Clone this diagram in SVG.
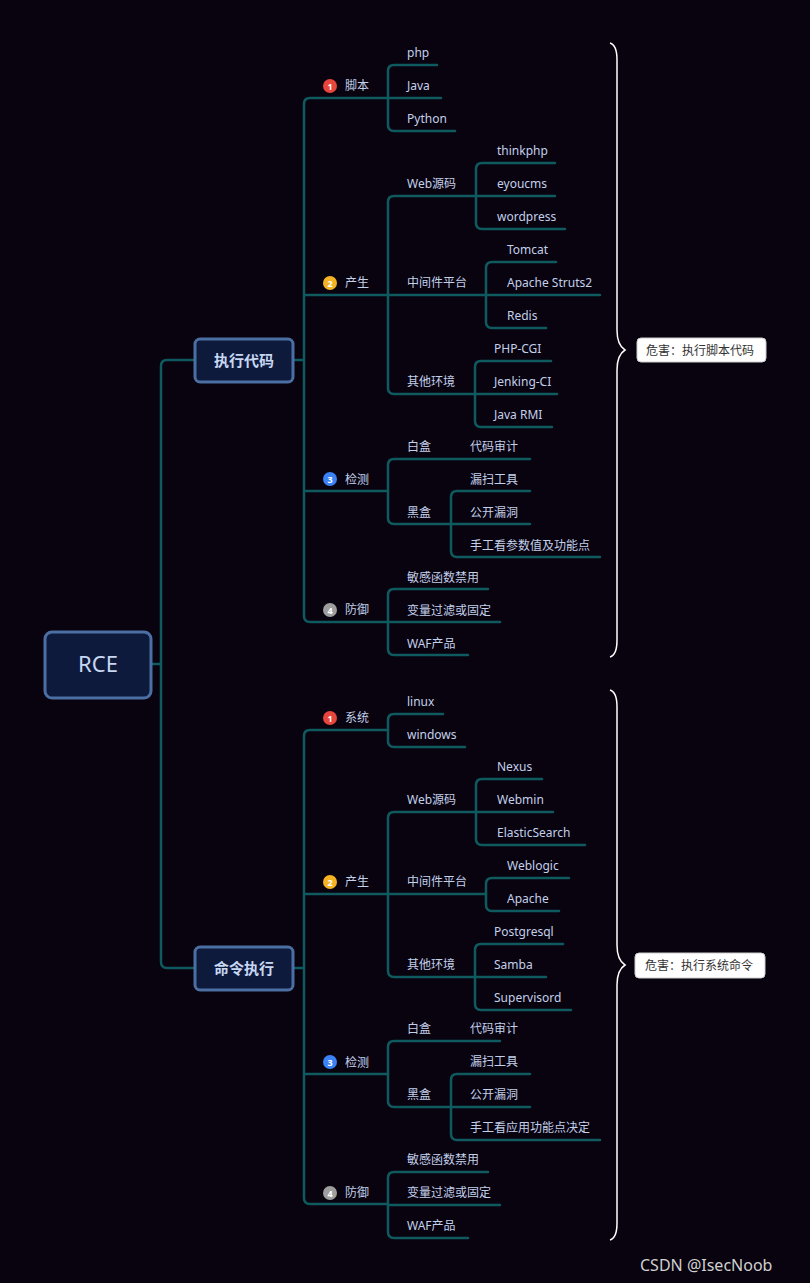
<svg xmlns="http://www.w3.org/2000/svg" width="810" height="1283" viewBox="0 0 810 1283">
<style>
.l{fill:none;stroke:#0f5a5e;stroke-width:2.5;stroke-linecap:round}
.t{font-family:"Noto Sans","Noto Sans CJK SC",sans-serif;font-size:12px;fill:#c3d0ea}
.bx{fill:#0e1a3c;stroke:#4b6fa3;stroke-width:3}
.bt{font-family:"Noto Sans","Noto Sans CJK SC",sans-serif;font-size:15px;font-weight:bold;fill:#c7d7f2;text-anchor:middle}
.br{fill:none;stroke:#ffffff;stroke-width:1.5}
.hb{fill:#ffffff;stroke:#cccccc;stroke-width:1}
.ht{font-family:"Noto Sans","Noto Sans CJK SC",sans-serif;font-size:12px;fill:#333}
.n{font-family:"Noto Sans",sans-serif;font-size:9px;font-weight:bold;fill:#fff;text-anchor:middle}
</style>
<rect width="810" height="1283" fill="#08030f"/>
<g id="connectors">
<path class="l" d="M151,664 H161 M195,360 H167 Q161,360 161,366 V962 Q161,968 167,968 H195"/>
<!-- top -->
<path class="l" d="M293,360 H304 M388,98 H310 Q304,98 304,104 V616 Q304,622 310,622 H388 M304,295 H388 M304,491 H388"/>
<path class="l" d="M437,65 H394 Q388,65 388,71 V125 Q388,131 394,131 H455 M388,98 H441"/>
<path class="l" d="M476,196 H394 Q388,196 388,202 V388 Q388,394 394,394 H475 M388,295 H486"/>
<path class="l" d="M555,163 H482 Q476,163 476,169 V223 Q476,229 482,229 H565 M476,196 H555"/>
<path class="l" d="M556,262 H492 Q486,262 486,268 V322 Q486,328 492,328 H546 M486,295 H600"/>
<path class="l" d="M551,361 H481 Q475,361 475,367 V421 Q475,427 481,427 H552 M475,394 H557"/>
<path class="l" d="M530,459 H394 Q388,459 388,465 V518 Q388,524 394,524 H451"/>
<path class="l" d="M530,491 H457 Q451,491 451,497 V551 Q451,557 457,557 H600 M451,524 H530"/>
<path class="l" d="M488,589 H394 Q388,589 388,595 V649 Q388,655 394,655 H468 M388,622 H500"/>
<!-- bottom -->
<path class="l" d="M293,968 H304 M388,730 H310 Q304,730 304,736 V1198 Q304,1204 310,1204 H388 M304,894 H388 M304,1074 H388"/>
<path class="l" d="M443,714 H394 Q388,714 388,720 V741 Q388,747 394,747 H465"/>
<path class="l" d="M476,812 H394 Q388,812 388,818 V971 Q388,977 394,977 H475 M388,894 H486"/>
<path class="l" d="M542,779 H482 Q476,779 476,785 V839 Q476,845 482,845 H585 M476,812 H553"/>
<path class="l" d="M569,878 H492 Q486,878 486,884 V905 Q486,911 492,911 H559"/>
<path class="l" d="M563,944 H481 Q475,944 475,950 V1004 Q475,1010 481,1010 H571 M475,977 H546"/>
<path class="l" d="M500,1041 H394 Q388,1041 388,1047 V1101 Q388,1107 394,1107 H451"/>
<path class="l" d="M530,1074 H457 Q451,1074 451,1080 V1134 Q451,1140 457,1140 H600 M451,1107 H530"/>
<path class="l" d="M488,1172 H394 Q388,1172 388,1178 V1232 Q388,1238 394,1238 H468 M388,1205 H500"/>
</g>
<g id="rce"><rect class="bx" x="45" y="632" width="106" height="66" rx="7"/><text x="98" y="672" class="bt" style="font-size:22px;font-weight:normal">RCE</text></g>
<g id="exec-code"><rect class="bx" x="195" y="339" width="98" height="43" rx="5"/><text x="244" y="366" class="bt">执行代码</text></g>
<g id="exec-cmd"><rect class="bx" x="195" y="947" width="98" height="43" rx="5"/><text x="244" y="974" class="bt">命令执行</text></g>
<g id="icons">
<circle cx="330" cy="86" r="7" fill="#e8453c"/><text x="330" y="89.5" class="n">1</text>
<circle cx="330" cy="283" r="7" fill="#f5b324"/><text x="330" y="286.5" class="n">2</text>
<circle cx="330" cy="479" r="7" fill="#3b82f6"/><text x="330" y="482.5" class="n">3</text>
<circle cx="330" cy="610" r="7" fill="#9e9e9e"/><text x="330" y="613.5" class="n">4</text>
<circle cx="330" cy="718" r="7" fill="#e8453c"/><text x="330" y="721.5" class="n">1</text>
<circle cx="330" cy="882" r="7" fill="#f5b324"/><text x="330" y="885.5" class="n">2</text>
<circle cx="330" cy="1062" r="7" fill="#3b82f6"/><text x="330" y="1065.5" class="n">3</text>
<circle cx="330" cy="1193" r="7" fill="#9e9e9e"/><text x="330" y="1196.5" class="n">4</text>
</g>
<g id="labels" class="t">
<text class="t" x="345" y="90">脚本</text>
<text class="t" x="345" y="287">产生</text>
<text class="t" x="345" y="484">检测</text>
<text class="t" x="345" y="614">防御</text>
<text class="t" x="407" y="57">php</text>
<text class="t" x="407" y="90">Java</text>
<text class="t" x="407" y="123">Python</text>
<text class="t" x="407" y="188">Web源码</text>
<text class="t" x="407" y="287">中间件平台</text>
<text class="t" x="407" y="386">其他环境</text>
<text class="t" x="497" y="155">thinkphp</text>
<text class="t" x="497" y="188">eyoucms</text>
<text class="t" x="497" y="221">wordpress</text>
<text class="t" x="507" y="254">Tomcat</text>
<text class="t" x="507" y="287">Apache Struts2</text>
<text class="t" x="507" y="320">Redis</text>
<text class="t" x="494" y="353">PHP-CGI</text>
<text class="t" x="494" y="386">Jenking-CI</text>
<text class="t" x="494" y="419">Java RMI</text>
<text class="t" x="407" y="451">白盒</text>
<text class="t" x="470" y="451">代码审计</text>
<text class="t" x="407" y="517">黑盒</text>
<text class="t" x="470" y="484">漏扫工具</text>
<text class="t" x="470" y="517">公开漏洞</text>
<text class="t" x="470" y="550">手工看参数值及功能点</text>
<text class="t" x="407" y="582">敏感函数禁用</text>
<text class="t" x="407" y="615">变量过滤或固定</text>
<text class="t" x="407" y="648">WAF产品</text>
<text class="t" x="345" y="722">系统</text>
<text class="t" x="345" y="886">产生</text>
<text class="t" x="345" y="1067">检测</text>
<text class="t" x="345" y="1197">防御</text>
<text class="t" x="407" y="706">linux</text>
<text class="t" x="407" y="739">windows</text>
<text class="t" x="407" y="804">Web源码</text>
<text class="t" x="407" y="886">中间件平台</text>
<text class="t" x="407" y="969">其他环境</text>
<text class="t" x="497" y="771">Nexus</text>
<text class="t" x="497" y="804">Webmin</text>
<text class="t" x="497" y="837">ElasticSearch</text>
<text class="t" x="507" y="870">Weblogic</text>
<text class="t" x="507" y="903">Apache</text>
<text class="t" x="494" y="936">Postgresql</text>
<text class="t" x="494" y="969">Samba</text>
<text class="t" x="494" y="1002">Supervisord</text>
<text class="t" x="407" y="1033">白盒</text>
<text class="t" x="470" y="1033">代码审计</text>
<text class="t" x="407" y="1099">黑盒</text>
<text class="t" x="470" y="1066">漏扫工具</text>
<text class="t" x="470" y="1099">公开漏洞</text>
<text class="t" x="470" y="1132">手工看应用功能点决定</text>
<text class="t" x="407" y="1164">敏感函数禁用</text>
<text class="t" x="407" y="1197">变量过滤或固定</text>
<text class="t" x="407" y="1230">WAF产品</text>
</g>
<g id="summary1">
<path class="br" d="M610,43 Q617,45 617,60 V330 Q617,345 625,350 Q617,355 617,370 V640 Q617,655 610,657"/>
<rect class="hb" x="637" y="338" width="129" height="24" rx="4"/><text class="ht" x="646" y="355">危害：执行脚本代码</text>
</g>
<g id="summary2">
<path class="br" d="M610,690 Q617,692 617,707 V945 Q617,960 625,965 Q617,970 617,985 V1223 Q617,1238 610,1240"/>
<rect class="hb" x="635" y="953" width="130" height="25" rx="4"/><text class="ht" x="645" y="970">危害：执行系统命令</text>
</g>
<text x="640" y="1271" style="font-family:'Noto Sans',sans-serif;font-size:16px;fill:#d0d0d0">CSDN @IsecNoob</text>
</svg>
